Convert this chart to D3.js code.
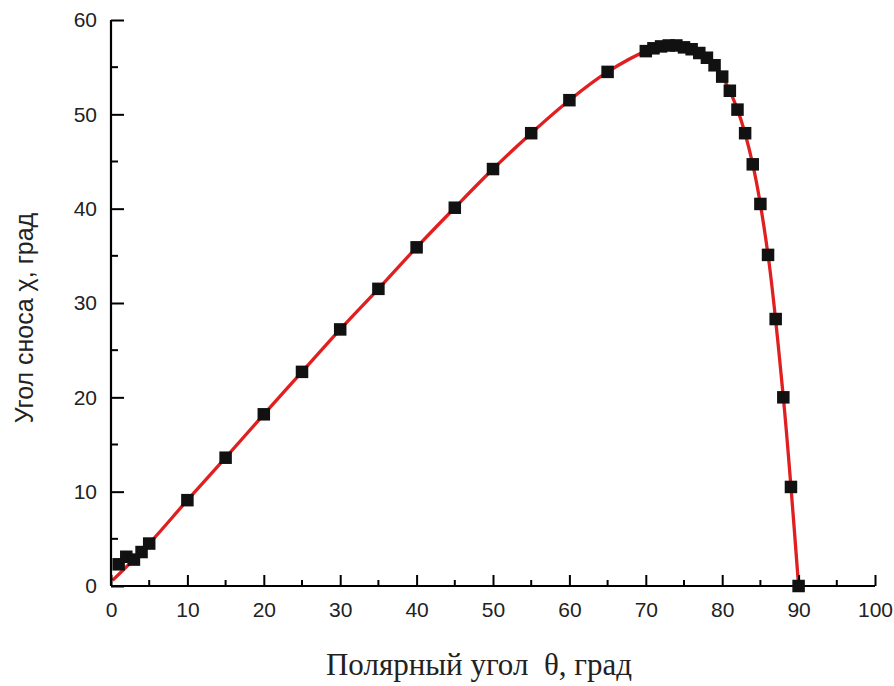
<!DOCTYPE html>
<html><head><meta charset="utf-8">
<script src="https://cdn.jsdelivr.net/npm/d3@7"></script>
<style>body{margin:0;background:#fff}svg{display:block}</style>
</head><body>
<svg id="c" width="894" height="686"></svg>
<script>
const thetaDeg = [1,2,3,4,5,10,15,20,25,30,35,40,45,50,55,60,65,70,71,72,73,74,75,76,77,78,79,80,81,82,83,84,85,86,87,88,89,90];
const chiDeg   = [2.3,3.1,2.8,3.6,4.5,9.1,13.6,18.2,22.7,27.2,31.5,35.9,40.1,44.2,48.0,51.5,54.5,56.7,57.0,57.2,57.3,57.3,57.1,56.9,56.5,56.0,55.2,54.0,52.5,50.5,48.0,44.7,40.5,35.1,28.3,20.0,10.5,0];
const fitTheta = [0.2,5,10,15,20,25,30,35,40,45,50,55,60,65,70,72,74,76,78,80,82,84,86,88,89,90];
const fitChi   = [0.6,4.5,9.1,13.6,18.2,22.7,27.2,31.5,35.9,40.1,44.2,48.0,51.5,54.5,56.7,57.2,57.3,56.9,56.0,54.0,50.5,44.7,35.1,20.0,10.5,0];
const xTicks = [0,10,20,30,40,50,60,70,80,90,100];
const yTicks = [0,10,20,30,40,50,60];
const xTitle = "Полярный угол  θ, град";
const yTitle = "Угол сноса χ, град";

const svg = d3.select("#c");
const x = d3.scaleLinear().domain([0,100]).range([111,875]);
const y = d3.scaleLinear().domain([0,60]).range([586,20]);

// fit line
svg.append("path")
  .datum(fitTheta.map((t,i)=>[t,fitChi[i]]))
  .attr("fill","none").attr("stroke","#e02020").attr("stroke-width",3.3)
  .attr("d", d3.line().x(d=>x(d[0])).y(d=>y(d[1])).curve(d3.curveCatmullRom));

// axes
const xAxis = svg.append("g").attr("transform","translate(0,586)");
xAxis.call(d3.axisBottom(x).tickValues(xTicks).tickSize(-11).tickPadding(16).tickFormat(d3.format("d")));
xAxis.append("g").selectAll("line").data(d3.range(5,100,10)).join("line")
  .attr("x1",d=>x(d)).attr("x2",d=>x(d)).attr("y1",0).attr("y2",-6)
  .attr("stroke","#000").attr("stroke-width",2);

const yAxis = svg.append("g").attr("transform","translate(111,0)");
yAxis.call(d3.axisLeft(y).tickValues(yTicks).tickSize(-13).tickPadding(14).tickFormat(d3.format("d")));
yAxis.append("g").selectAll("line").data(d3.range(5,60,10)).join("line")
  .attr("y1",d=>y(d)).attr("y2",d=>y(d)).attr("x1",0).attr("x2",7)
  .attr("stroke","#000").attr("stroke-width",2);

svg.selectAll(".domain").attr("stroke","#000").attr("stroke-width",2.2);
svg.selectAll(".tick line").attr("stroke","#000").attr("stroke-width",2);
svg.selectAll(".tick text").attr("font-family","Liberation Sans, Arial, sans-serif").attr("font-size",21).attr("fill","#222");
xAxis.select(".domain").attr("d",`M${x(0)},0H${x(100)}`);
yAxis.select(".domain").attr("d",`M0,${y(0)}V${y(60)}`);

// markers
const s = 12.5;
svg.append("g").selectAll("rect").data(thetaDeg.map((t,i)=>[t,chiDeg[i]])).join("rect")
  .attr("x",d=>x(d[0])-s/2).attr("y",d=>y(d[1])-s/2).attr("width",s).attr("height",s)
  .attr("fill","#111");

// titles
svg.append("text").attr("x",479).attr("y",675).attr("text-anchor","middle")
  .attr("font-family","Liberation Serif, Times New Roman, serif").attr("font-size",31).attr("fill","#222")
  .attr("xml:space","preserve").style("white-space","pre").text(xTitle);
svg.append("text").attr("transform","translate(33,318) rotate(-90)").attr("text-anchor","middle")
  .attr("font-family","Liberation Sans, Arial, sans-serif").attr("font-size",25).attr("fill","#222")
  .text(yTitle);
</script>
</body></html>
